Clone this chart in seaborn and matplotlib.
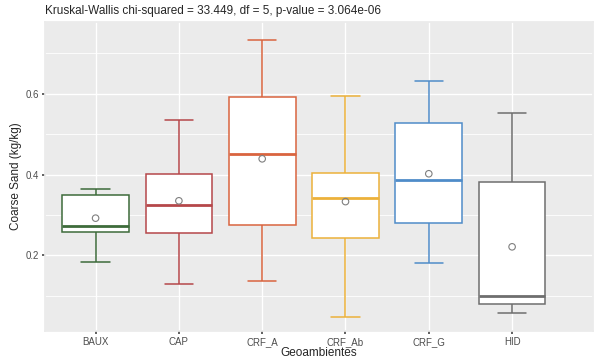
import numpy as np
import pandas as pd
import seaborn as sns
import matplotlib.pyplot as plt
from matplotlib.ticker import MultipleLocator

# Values
groups = ['BAUX', 'CAP', 'CRF_A', 'CRF_Ab', 'CRF_G', 'HID']
lower_whisker = [0.184, 0.129, 0.136, 0.046, 0.181, 0.058]
q1 = [0.257, 0.256, 0.276, 0.244, 0.281, 0.080]
median = [0.272, 0.324, 0.452, 0.341, 0.387, 0.099]
q3 = [0.350, 0.402, 0.592, 0.404, 0.527, 0.382]
upper_whisker = [0.365, 0.535, 0.733, 0.595, 0.632, 0.553]
means = [0.292, 0.335, 0.439, 0.333, 0.402, 0.221]
colors = ['#3d6b3a', '#b5474a', '#d9643f', '#ecb13a', '#4f8cc9', '#6e6e6e']

# five summary values per group give the same box with linear quartiles
rows = []
for i, g in enumerate(groups):
    for v in [lower_whisker[i], q1[i], median[i], q3[i], upper_whisker[i]]:
        rows.append({'grp': g, 'val': v})
df = pd.DataFrame(rows)
df_mean = pd.DataFrame({'grp': groups, 'val': means})

sns.set_theme(style='darkgrid', rc={
    'axes.facecolor': '#EBEBEB',
    'grid.color': 'white',
    'axes.edgecolor': '#EBEBEB',
})
plt.rcParams['font.family'] = ['Liberation Sans', 'DejaVu Sans']

fig, ax = plt.subplots(figsize=(6.05, 3.6), dpi=100)
fig.subplots_adjust(left=0.074, right=0.98, bottom=0.08, top=0.939)

for i, g in enumerate(groups):
    sns.boxplot(data=df[df['grp'] == g], x='grp', y='val', order=groups,
                color='white', linecolor=colors[i], linewidth=1.1,
                whis=(0, 100), width=0.8, ax=ax,
                medianprops={'linewidth': 2.0})

# shorten whisker caps to ggplot-like errorbar width
for line in ax.lines:
    xd = np.asarray(line.get_xdata(), dtype=float)
    yd = np.asarray(line.get_ydata(), dtype=float)
    if len(xd) == 2 and yd[0] == yd[1] and abs(xd[1] - xd[0]) < 0.5:
        c = xd.mean()
        line.set_xdata([c - 0.17, c + 0.17])

sns.scatterplot(data=df_mean, x='grp', y='val', marker='o', s=22,
                facecolor='none', edgecolor='#7f7f7f', linewidth=0.8,
                ax=ax, zorder=5)

ax.set_xlim(-0.61, 5.97)
ax.set_ylim(0.012, 0.778)
ax.yaxis.set_major_locator(MultipleLocator(0.2))
ax.yaxis.set_minor_locator(MultipleLocator(0.1))
ax.set_yticks([0.2, 0.4, 0.6])
ax.set_yticklabels(['0.2', '0.4', '0.6'])
ax.grid(which='major', color='white', linewidth=1.0)
ax.grid(which='minor', axis='y', color='white', linewidth=0.6)
ax.tick_params(axis='both', which='major', labelsize=7, labelcolor='#4D4D4D',
               length=2.5, color='#4D4D4D', pad=1.5, bottom=True, left=True)
ax.tick_params(axis='both', which='minor', length=0)

ax.set_xlabel('Geoambientes', fontsize=8.5, labelpad=0)
ax.set_ylabel('Coarse Sand (kg/kg)', fontsize=8.5, labelpad=3)
ax.set_title('Kruskal-Wallis chi-squared = 33.449, df = 5, p-value = 3.064e-06',
             fontsize=8.5, loc='left', pad=6)

fig.savefig('out.png', dpi=100)
